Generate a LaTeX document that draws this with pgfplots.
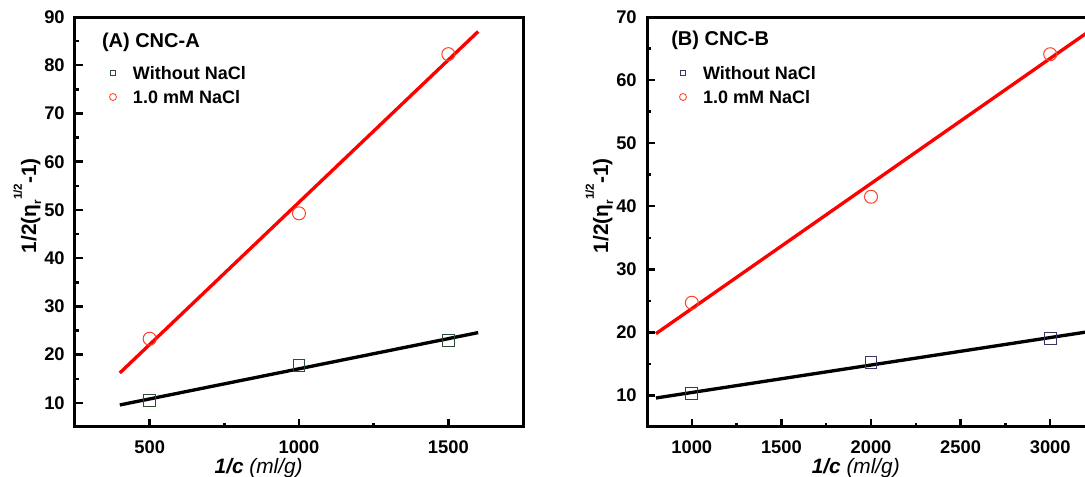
\documentclass[border=0pt]{standalone}
\usepackage{fontspec}
\setmainfont{Liberation Sans}
\usepackage{pgfplots}
\pgfplotsset{compat=1.18}

\definecolor{sqA}{rgb}{0.18,0.30,0.20}
\definecolor{sqB}{rgb}{0.25,0.20,0.38}
\definecolor{circ}{rgb}{1,0.25,0.15}

\pgfplotsset{
  cnc/.style={
    scale only axis, width=268.8pt, height=246pt,
    axis line style={line width=1.8pt},
    tick style={line width=1.5pt, black},
    tick align=inside, xtick pos=bottom, ytick pos=left,
    major tick length=4.5pt, minor tick length=2.6pt,
    minor tick num=1, ymin=5,
    /pgf/number format/assume math mode=true,
    /pgf/number format/1000 sep={},
    ticklabel style={font=\bfseries\fontsize{11}{12}\selectfont},
    xticklabel style={inner sep=0pt, yshift=-7.8pt},
    yticklabel style={inner sep=0pt, xshift=-6pt},
    every axis y label/.style={at={(axis description cs:0,0.54)}, xshift=-28.6pt,
      rotate=90, anchor=center, inner sep=0pt,
      font=\bfseries\fontsize{12.5}{14}\selectfont},
    ylabel={1/2(η\raisebox{-0.45ex}{\scriptsize r}\raisebox{1.3ex}{\scriptsize 1/2}-1)},
    xlabel={\textbf{\textit{1/c}} \textit{(ml/g)}},
    legend cell align=left,
    legend style={anchor=north west, draw=none, fill=none, inner sep=0pt,
      outer sep=0pt, row sep=6.6pt,
      font=\bfseries\fontsize{10.8}{12}\selectfont,
      nodes={inner sep=0pt, text height=7.8pt, text depth=0pt}},
  },
  xlab/.style={every axis x label/.style={at={(axis description cs:#1,0)},
      yshift=-18.6pt, anchor=north, inner sep=0pt,
      font=\fontsize{12.5}{14}\selectfont}},
  sqmark/.style={only marks, mark=square, mark size=3.5pt, mark options={line width=0.6pt}},
  cimark/.style={only marks, mark=o, mark size=3.9pt, mark options={line width=0.6pt}},
  fitline/.style={no marks, line width=2pt},
}

\begin{document}
\begin{tikzpicture}

\begin{axis}[cnc, xlab=0.41, at={(0pt,0pt)}, anchor=south west,
  xmin=250, xmax=1750, ymax=90,
  xtick={500,1000,1500}, ytick={10,20,...,90},
  legend style={at={(axis description cs:0,1)}, xshift=18.8pt, yshift=-29.7pt},
  legend image code/.code={\path[draw=none, fill=none] (0pt,-3pt) rectangle (16pt,3pt);
    \draw[#1] plot coordinates {(4pt,0pt)};}]
\addplot[sqmark, sqA, forget plot] coordinates {(500,10.5) (1000,17.7) (1500,23.0)};
\addplot[cimark, circ, forget plot] coordinates {(500,23.3) (1000,49.3) (1500,82.3)};
\addplot[fitline, black, forget plot] coordinates {(400,9.57) (1600,24.57)};
\addplot[fitline, red, forget plot] coordinates {(400,16.2) (1600,87.0)};
\addlegendimage{only marks, mark=square, mark size=1.7pt, sqA, mark options={line width=0.5pt}}
\addlegendentry{Without NaCl}
\addlegendimage{only marks, mark=o, mark size=2.1pt, circ, mark options={line width=0.5pt}}
\addlegendentry{1.0 mM NaCl}
\node[anchor=west, inner sep=0pt, xshift=16pt, yshift=-15pt,
  font=\bfseries\fontsize{12}{14}\selectfont] at (rel axis cs:0,1) {(A) CNC-A};
\end{axis}

\begin{axis}[cnc, xlab=0.466, at={(343.2pt,0pt)}, anchor=south west,
  xmin=750, xmax=3250, ymax=70,
  xtick={1000,1500,...,3000}, ytick={10,20,...,70},
  legend style={at={(axis description cs:0,1)}, xshift=17.6pt, yshift=-29.7pt},
  legend image code/.code={\path[draw=none, fill=none] (0pt,-3pt) rectangle (16pt,3pt);
    \draw[#1] plot coordinates {(4pt,0pt)};}]
\addplot[sqmark, sqB, forget plot] coordinates {(1000,10.3) (2000,15.2) (3000,19.0)};
\addplot[cimark, circ, forget plot] coordinates {(1000,24.7) (2000,41.5) (3000,64.1)};
\addplot[fitline, black, forget plot] coordinates {(800,9.6) (3200,20.05)};
\addplot[fitline, red, forget plot] coordinates {(800,19.8) (3200,67.4)};
\addlegendimage{only marks, mark=square, mark size=1.7pt, sqB, mark options={line width=0.5pt}}
\addlegendentry{Without NaCl}
\addlegendimage{only marks, mark=o, mark size=2.1pt, circ, mark options={line width=0.5pt}}
\addlegendentry{1.0 mM NaCl}
\node[anchor=west, inner sep=0pt, xshift=14.4pt, yshift=-14pt,
  font=\bfseries\fontsize{12}{14}\selectfont] at (rel axis cs:0,1) {(B) CNC-B};
\end{axis}

\pgfresetboundingbox
\path (-45pt,-30pt) rectangle (606pt,256.2pt);
\end{tikzpicture}
\end{document}
